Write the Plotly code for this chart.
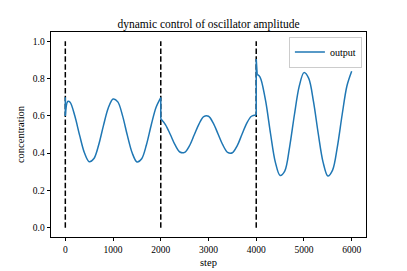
import plotly.graph_objects as go

# ---- data ----
steps_a = [0, 50, 100, 200, 300, 400, 500, 600, 700, 800, 900, 1000,
           1100, 1200, 1300, 1400, 1500, 1600, 1700, 1800, 1900, 2000]
vals_a = [0.600, 0.677, 0.673, 0.599, 0.495, 0.402, 0.354, 0.371, 0.445, 0.549, 0.642, 0.690,
          0.675, 0.600, 0.495, 0.402, 0.353, 0.370, 0.445, 0.551, 0.645, 0.698]

steps_b = [2000, 2100, 2200, 2300, 2400, 2500, 2600, 2700, 2800, 2900, 3000,
           3100, 3200, 3300, 3400, 3500, 3600, 3700, 3800, 3900, 4000]
vals_b = [0.584, 0.552, 0.500, 0.444, 0.406, 0.404, 0.439, 0.497, 0.556, 0.596, 0.598,
          0.561, 0.503, 0.444, 0.404, 0.402, 0.439, 0.500, 0.560, 0.598, 0.605]

steps_c = [4020, 4060, 4100, 4200, 4300, 4400, 4500, 4600, 4700, 4800, 4900, 5000,
           5100, 5200, 5300, 5400, 5500, 5600, 5700, 5800, 5900, 6000]
vals_c = [0.822, 0.815, 0.795, 0.676, 0.504, 0.352, 0.280, 0.305, 0.434, 0.606, 0.758, 0.832,
          0.801, 0.676, 0.504, 0.352, 0.277, 0.309, 0.434, 0.606, 0.760, 0.839]

jump_steps = [0, 0, None, 2000, 2000, None, 4000, 4000, 4020]
jump_vals = [0.700, 0.600, None, 0.698, 0.584, None, 0.605, 0.905, 0.822]

switch_steps = [0, 2000, 4000]
switch_low = 0.0
switch_high = 1.0

x_ticks = [0, 1000, 2000, 3000, 4000, 5000, 6000]
y_ticks = [0.0, 0.2, 0.4, 0.6, 0.8, 1.0]

BLUE = "#1f77b4"
FONT = "Liberation Serif"

fig = go.Figure()

# dashed switch markers
vx, vy = [], []
for s in switch_steps:
    vx += [s, s, None]
    vy += [switch_low, switch_high, None]
fig.add_trace(go.Scatter(x=vx, y=vy, mode="lines", showlegend=False,
                         line=dict(color="black", width=1.5, dash="5.5px,2.4px"),
                         hoverinfo="skip"))

for i, (xs, ys) in enumerate([(steps_a, vals_a), (steps_b, vals_b), (steps_c, vals_c)]):
    fig.add_trace(go.Scatter(x=xs, y=ys, mode="lines", name="output",
                             legendgroup="out", showlegend=(i == 0),
                             line=dict(color=BLUE, width=1.5, shape="spline", smoothing=0.9)))
fig.add_trace(go.Scatter(x=jump_steps, y=jump_vals, mode="lines", name="output",
                         legendgroup="out", showlegend=False,
                         line=dict(color=BLUE, width=1.5)))

axis_common = dict(showline=True, mirror=True, linecolor="black", linewidth=0.8,
                   ticks="outside", ticklen=3.5, tickwidth=0.8, tickcolor="black",
                   showgrid=False, zeroline=False, automargin=False,
                   tickfont=dict(family=FONT, size=9.5, color="black"))

fig.update_layout(
    width=407, height=271,
    margin=dict(l=51, r=41, t=32, b=34),
    paper_bgcolor="white", plot_bgcolor="white",
    title=dict(text="dynamic control of oscillator amplitude", x=0.5, xref="paper",
               xanchor="center", y=1 - 23.5 / 271, yanchor="middle",
               font=dict(family=FONT, size=11.5, color="black")),
    xaxis=dict(range=[-300, 6300], tickvals=x_ticks,
               ticktext=[str(t) for t in x_ticks],
               title=dict(text="step", standoff=4,
                          font=dict(family=FONT, size=10.5, color="black")),
               **axis_common),
    yaxis=dict(range=[-0.05, 1.05], tickvals=y_ticks,
               ticktext=[f"{t:.1f}" for t in y_ticks],
               title=dict(text="concentration", standoff=6,
                          font=dict(family=FONT, size=10.5, color="black")),
               **axis_common),
    legend=dict(x=0.987, y=0.978, xanchor="right", yanchor="top",
                bgcolor="rgba(255,255,255,0.8)", bordercolor="#cccccc", borderwidth=1,
                font=dict(family=FONT, size=10, color="black"),
                itemwidth=30, tracegroupgap=0),
    showlegend=True,
)

fig.write_html("out.html", config={"displayModeBar": False},
               post_script="document.body.style.margin='0';document.body.style.overflow='hidden';")
